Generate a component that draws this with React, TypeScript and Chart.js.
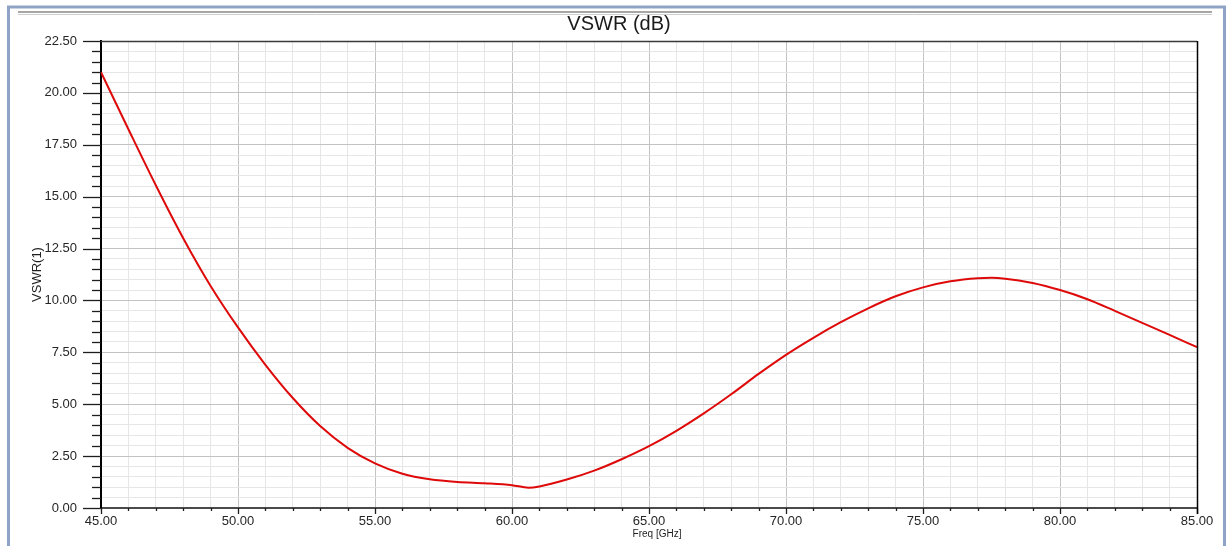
import React, { useEffect, useRef } from "react";
import { Chart, registerables } from "chart.js";

Chart.register(...registerables);

// ---- Data ----
const freqGHz = [
  45, 46, 47, 48, 49, 50, 51, 52, 53, 54, 55, 56, 57, 58, 59, 60, 60.6,
  61, 62, 63, 64, 65, 66, 67, 68, 69, 70, 71, 72, 73, 74, 75, 76, 77, 77.5,
  78, 79, 80, 81, 82, 83, 84, 85,
];
const vswrValues = [
  21.0, 18.25, 15.55, 13.0, 10.7, 8.7, 6.9, 5.3, 3.95, 2.9, 2.15, 1.65, 1.38, 1.25, 1.19, 1.1, 0.98,
  1.04, 1.37, 1.8, 2.35, 2.98, 3.72, 4.56, 5.48, 6.46, 7.38, 8.2, 8.95, 9.62, 10.2, 10.63, 10.92, 11.07, 11.09,
  11.05, 10.84, 10.5, 10.06, 9.5, 8.92, 8.34, 7.75,
];

const xMajorTicks = [45, 50, 55, 60, 65, 70, 75, 80, 85];
const yMajorTicks = [0, 2.5, 5, 7.5, 10, 12.5, 15, 17.5, 20, 22.5];
const xMinorStep = 1;
const yMinorStep = 0.5;

const chartTitle = "VSWR (dB)";
const xAxisTitle = "Freq [GHz]";
const yAxisTitle = "VSWR(1)";

const FONT = "'Liberation Sans', Arial, Helvetica, sans-serif";

const isMajor = (list: number[], v: number | undefined) =>
  v !== undefined && list.some((m) => Math.abs(m - v) < 1e-6);

const buildTicks = (min: number, max: number, step: number) => {
  const out: { value: number }[] = [];
  const n = Math.round((max - min) / step);
  for (let i = 0; i <= n; i++) out.push({ value: +(min + i * step).toFixed(6) });
  return out;
};

const decorPlugin = {
  id: "decor",
  beforeDraw(chart: any) {
    const ctx = chart.ctx as CanvasRenderingContext2D;
    ctx.save();
    ctx.fillStyle = "#ffffff";
    ctx.fillRect(0, 0, chart.width, chart.height);
    // outer frame
    ctx.strokeStyle = "#8fa3c6";
    ctx.lineWidth = 3;
    ctx.beginPath();
    ctx.moveTo(8.5, 560);
    ctx.lineTo(8.5, 7);
    ctx.lineTo(1224.5, 7);
    ctx.lineTo(1224.5, 560);
    ctx.stroke();
    // title bar lines
    ctx.strokeStyle = "#8a8a8a";
    ctx.lineWidth = 1.5;
    ctx.beginPath();
    ctx.moveTo(18, 12);
    ctx.lineTo(1212, 12);
    ctx.stroke();
    ctx.strokeStyle = "#cfcfcf";
    ctx.lineWidth = 1;
    ctx.beginPath();
    ctx.moveTo(18, 14.5);
    ctx.lineTo(1212, 14.5);
    ctx.stroke();
    // title
    const { left, right } = chart.chartArea;
    ctx.fillStyle = "#1a1a1a";
    ctx.font = `20px ${FONT}`;
    ctx.textAlign = "center";
    ctx.textBaseline = "alphabetic";
    ctx.fillText(chartTitle, (left + right) / 2 - 30, 30);
    ctx.restore();
  },
  afterDraw(chart: any) {
    const ctx = chart.ctx as CanvasRenderingContext2D;
    const xs = chart.scales.x;
    const ys = chart.scales.y;
    const { left, right, top, bottom } = chart.chartArea;
    ctx.save();
    ctx.strokeStyle = "#1e1e1e";
    ctx.lineWidth = 1.3;
    ys.ticks.forEach((t: any) => {
      const y = Math.round(ys.getPixelForValue(t.value)) + 0.5;
      const len = isMajor(yMajorTicks, t.value) ? 18 : 9;
      ctx.beginPath();
      ctx.moveTo(left - len, y);
      ctx.lineTo(left, y);
      ctx.stroke();
    });
    xs.ticks.forEach((t: any) => {
      const x = Math.round(xs.getPixelForValue(t.value)) + 0.5;
      const len = isMajor(xMajorTicks, t.value) ? 6 : 3;
      ctx.beginPath();
      ctx.moveTo(x, bottom);
      ctx.lineTo(x, bottom + len);
      ctx.stroke();
    });
    // top and right borders
    ctx.strokeStyle = "#3a3a3a";
    ctx.lineWidth = 1.5;
    ctx.beginPath();
    ctx.moveTo(left, Math.round(top) + 0.5);
    ctx.lineTo(right, Math.round(top) + 0.5);
    ctx.stroke();
    ctx.strokeStyle = "#000000";
    ctx.beginPath();
    ctx.moveTo(Math.round(right) + 0.5, top);
    ctx.lineTo(Math.round(right) + 0.5, bottom + 6);
    ctx.stroke();
    // x axis title (sits slightly right of centre in the reference)
    ctx.fillStyle = "#1e1e1e";
    ctx.font = `10px ${FONT}`;
    ctx.textAlign = "center";
    ctx.textBaseline = "middle";
    ctx.fillText(xAxisTitle, (left + right) / 2 + 8, 534);
    ctx.restore();
  },
};

export default function App() {
  const canvasRef = useRef<HTMLCanvasElement | null>(null);

  useEffect(() => {
    if (!canvasRef.current) return;
    const chart = new Chart(canvasRef.current, {
      type: "line",
      data: {
        datasets: [
          {
            label: "VSWR",
            data: freqGHz.map((f, i) => ({ x: f, y: vswrValues[i] })),
            borderColor: "rgb(222, 10, 10)",
            borderWidth: 2,
            pointRadius: 0,
            fill: false,
            cubicInterpolationMode: "monotone",
          },
        ],
      },
      options: {
        animation: false,
        responsive: false,
        devicePixelRatio: 1,
        events: [],
        layout: { padding: { top: 41, right: 30, bottom: 6, left: 30 } },
        plugins: {
          legend: { display: false },
          title: { display: false },
          tooltip: { enabled: false },
        },
        scales: {
          x: {
            type: "linear",
            min: 45,
            max: 85,
            afterBuildTicks: (scale: any) => {
              scale.ticks = buildTicks(45, 85, xMinorStep);
            },
            afterFit: (scale: any) => {
              scale.height = 32;
            },
            ticks: {
              autoSkip: false,
              maxRotation: 0,
              minRotation: 0,
              padding: 6,
              color: "#262626",
              font: { family: FONT, size: 13 },
              callback: (v: any) => (isMajor(xMajorTicks, Number(v)) ? Number(v).toFixed(2) : ""),
            },
            grid: {
              drawTicks: false,
              color: (c: any) => (isMajor(xMajorTicks, c.tick?.value) ? "#c3c3c3" : "#e6e6e6"),
              lineWidth: 1,
            },
            border: { color: "#4a4a4a", width: 2 },
            title: { display: false },
          },
          y: {
            type: "linear",
            min: 0,
            max: 22.5,
            afterBuildTicks: (scale: any) => {
              scale.ticks = buildTicks(0, 22.5, yMinorStep);
            },
            afterFit: (scale: any) => {
              scale.width = 71;
            },
            ticks: {
              autoSkip: false,
              padding: 24,
              color: "#262626",
              font: { family: FONT, size: 13 },
              callback: (v: any) => (isMajor(yMajorTicks, Number(v)) ? Number(v).toFixed(2) : ""),
            },
            grid: {
              drawTicks: false,
              color: (c: any) => (isMajor(yMajorTicks, c.tick?.value) ? "#c3c3c3" : "#e6e6e6"),
              lineWidth: 1,
            },
            border: { color: "#000000", width: 2 },
            title: {
              display: true,
              text: yAxisTitle,
              color: "#1e1e1e",
              font: { family: FONT, size: 13 },
              padding: 0,
            },
          },
        },
      },
      plugins: [decorPlugin],
    } as any);
    return () => chart.destroy();
  }, []);

  return (
    <div style={{ position: "absolute", left: 0, top: 0, width: 1227, height: 546 }}>
      <canvas ref={canvasRef} width={1227} height={546} style={{ display: "block", width: 1227, height: 546 }} />
    </div>
  );
}
